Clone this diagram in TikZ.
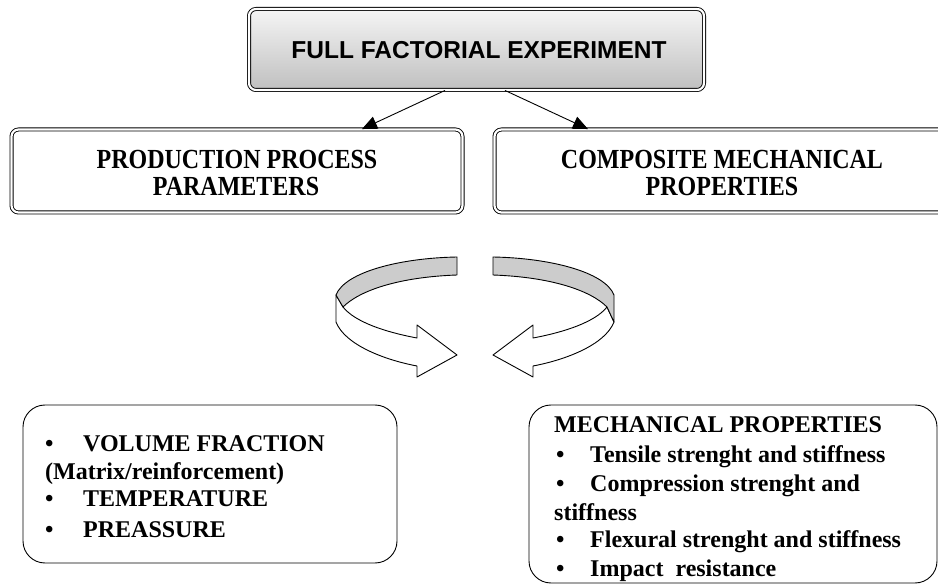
\documentclass[tikz,border=0pt]{standalone}
\usepackage{fontspec}
\setmainfont{Liberation Serif}
\newfontfamily\arialfont{Liberation Sans}
\usetikzlibrary{arrows.meta}
\newcommand\tallbox[1]{\scalebox{1}[1.15]{#1}}
\begin{document}
\begin{tikzpicture}[x=1pt,y=-1pt,
  dbox/.style={draw, line width=0.9pt, double=white, double distance=2.2pt, rounded corners=7pt, inner sep=0pt},
  rbox/.style={draw, line width=0.9pt, rounded corners=22pt, inner sep=0pt},
  lbl/.style={font=\fontsize{24}{28}\selectfont\bfseries, inner sep=0pt},
  hlbl/.style={font=\arialfont\fontsize{24.5}{28}\selectfont\bfseries, inner sep=0pt},
  conn/.style={line width=0.9pt, -{Triangle[length=15pt,width=13pt]}},
  rib/.style={draw, line width=0.9pt, line join=round},
  bul/.style={lbl, anchor=base west}]
\useasboundingbox (0,0) rectangle (938,585);
\fill[white] (0,0) rectangle (938,585);
% top box
\node[dbox, top color=black!4, bottom color=black!25, minimum width=455pt, minimum height=81pt] (top) at (476.5,49.5) {};
\node[hlbl, anchor=base] (toptxt) at (479,59) {FULL FACTORIAL EXPERIMENT};
% middle boxes
\node[dbox, fill=white, minimum width=451pt, minimum height=83pt] (ppp) at (237,171) {};
\node[lbl, anchor=base] (ppp1) at (237,169) {\tallbox{PRODUCTION PROCESS}};
\node[lbl, anchor=base] (ppp2) at (236,196) {\tallbox{PARAMETERS}};
\node[dbox, fill=white, minimum width=455pt, minimum height=83pt] (cmp) at (722,171) {};
\node[lbl, anchor=base] (cmp1) at (722,169) {\tallbox{COMPOSITE MECHANICAL}};
\node[lbl, anchor=base] (cmp2) at (722,196) {\tallbox{PROPERTIES}};
% connectors
\draw[conn] ([xshift=-31.5pt]top.south) -- ([xshift=125pt]ppp.north);
\draw[conn] ([xshift=28.5pt]top.south) -- ([xshift=-134pt]cmp.north);
% circular arrows
\draw[rib, fill=white] (336,295) -- (336,322) .. controls (345,345) and (385,360) .. (417,366) -- (417,377) -- (457,355) -- (417,325) -- (417,338) .. controls (385,332) and (355,322) .. (343,307) -- cycle;
\draw[rib, fill=black!20] (457,257) .. controls (400,258) and (345,272) .. (336,295) -- (343,307) .. controls (360,290) and (400,277) .. (457,275) -- cycle;
\draw[rib, fill=white] (614,322) .. controls (605,345) and (565,360) .. (533,366) -- (533,377) -- (493,355) -- (533,325) -- (533,338) .. controls (565,332) and (595,322) .. (607,307) -- cycle;
\draw[rib, fill=black!20] (493,257) .. controls (550,258) and (605,272) .. (614,295) -- (614,322) -- (607,307) .. controls (590,290) and (550,277) .. (493,275) -- cycle;
% bottom boxes
\node[rbox, minimum width=374pt, minimum height=158pt] (lb) at (210,484) {};
\node[bul] (lb1) at (45,452) {\makebox[38pt][l]{\textbullet}VOLUME FRACTION};
\node[bul] (lb2) at (45,479) {(Matrix/reinforcement)};
\node[bul] (lb3) at (45,507) {\makebox[38pt][l]{\textbullet}TEMPERATURE};
\node[bul] (lb4) at (45,537) {\makebox[38pt][l]{\textbullet}PREASSURE};
\node[rbox, minimum width=408pt, minimum height=178pt] (rb) at (733,494) {};
\node[bul] (rb1) at (554,433) {MECHANICAL PROPERTIES};
\node[bul] (rb2) at (556,463) {\makebox[34pt][l]{\textbullet}Tensile strenght and stiffness};
\node[bul] (rb3) at (556,491) {\makebox[34pt][l]{\textbullet}Compression strenght and};
\node[bul] (rb4) at (554,520) {stiffness};
\node[bul] (rb5) at (556,547) {\makebox[34pt][l]{\textbullet}Flexural strenght and stiffness};
\node[bul] (rb6) at (556,576) {\makebox[34pt][l]{\textbullet}Impact\ \ resistance};
\end{tikzpicture}
\end{document}
